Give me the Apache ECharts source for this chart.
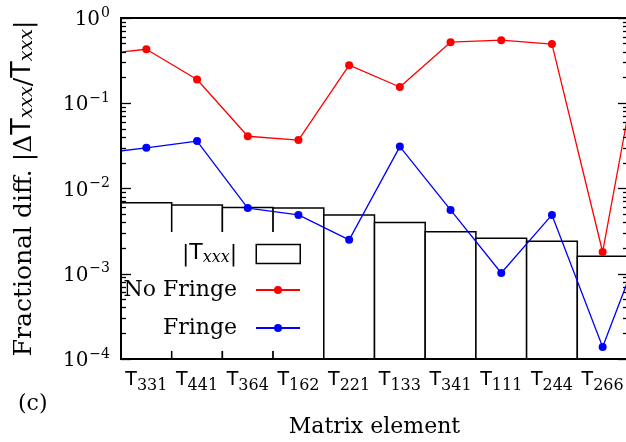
<!DOCTYPE html>
<html lang="en">
<head>
<meta charset="UTF-8">
<title>Fractional diff</title>
<style>
  html, body { margin: 0; padding: 0; background: #fff; }
  #main { width: 626px; height: 442px; }
</style>
</head>
<body>
<div id="main"></div>
<script src="https://cdn.jsdelivr.net/npm/echarts@6/dist/echarts.min.js"></script>
<script>
// matrix elements (subscripts of T)
var categories = ['331', '441', '364', '162', '221', '133', '341', '111', '244', '266'];
// |T_xxx| (boxes)
var tAbs = [0.0068, 0.0064, 0.0060, 0.0059, 0.0049, 0.0040, 0.0031, 0.0026, 0.0024, 0.0016];
// fractional differences
var noFringe = [0.43, 0.19, 0.041, 0.037, 0.28, 0.155, 0.52, 0.55, 0.495, 0.0018];
var fringe = [0.030, 0.036, 0.0059, 0.0049, 0.0025, 0.031, 0.0056, 0.00102, 0.0049, 0.000138];
// neighbours just outside the frame (index -1 and 10), the lines run off the edges
var noFringeOut = [0.37, 3.0];
var fringeOut = [0.0254, 0.005];
// y ticks
var majorTicks = [1e-4, 1e-3, 1e-2, 1e-1, 1];
var minorMant = [2, 3, 4, 5, 6, 7, 8, 9];

var SERIF = 'DejaVu Serif';
var SANS = 'DejaVu Sans';

var minorTicks = [];
for (var d = 0; d < majorTicks.length - 1; d++) {
    for (var m = 0; m < minorMant.length; m++) {
        minorTicks.push(minorMant[m] * majorTicks[d]);
    }
}

function withOut(vals, out) {
    var arr = [[-1, out[0]]];
    for (var i = 0; i < vals.length; i++) arr.push([i, vals[i]]);
    arr.push([vals.length, out[1]]);
    return arr;
}

var boxData = [];
for (var i = 0; i < tAbs.length; i++) boxData.push([i, tAbs[i]]);

function expLabel(v) {
    var e = Math.round(Math.log10(v));
    return '{b|10}{e|' + (e < 0 ? '\u2212' + (-e) : e) + '}';
}

var tickStyle = { color: '#000', width: 1.3 };
var logBase = { type: 'log', logBase: 10, min: 1e-4, max: 1, z: 6, splitLine: { show: false } };

function yAx(pos, ticks, len, extra) {
    var a = Object.assign({}, logBase, {
        position: pos,
        axisLine: { show: true, onZero: false, lineStyle: { color: '#000', width: 2 } },
        axisTick: { show: true, inside: true, length: len, customValues: ticks, lineStyle: tickStyle },
        axisLabel: { show: false }
    });
    return Object.assign(a, extra || {});
}

var myChart = echarts.init(document.getElementById('main'));

var option = {
    animation: false,
    backgroundColor: '#fff',
    grid: { left: 121, top: 18, right: -2, bottom: 83, outerBoundsMode: 'none' },
    xAxis: [{
        type: 'category', position: 'bottom', data: categories, z: 6,
        axisLine: { onZero: false, lineStyle: { color: '#000', width: 2 } },
        axisTick: { inside: true, alignWithLabel: true, length: 7, lineStyle: tickStyle },
        axisLabel: {
            margin: 12, interval: 0,
            formatter: function (v) { return '{t|T}{s|' + v + '}'; },
            rich: {
                t: { fontFamily: SANS, fontSize: 19, color: '#000', verticalAlign: 'bottom', padding: [0, 0, 4, 0] },
                s: { fontFamily: SERIF, fontSize: 16, color: '#000', verticalAlign: 'bottom' }
            }
        },
        name: 'Matrix element', nameLocation: 'middle', nameGap: 57,
        nameTextStyle: { fontFamily: SERIF, fontSize: 22, color: '#000' }
    }, {
        type: 'category', position: 'top', data: categories, z: 6,
        axisLine: { onZero: false, lineStyle: { color: '#000', width: 2 } },
        axisTick: { inside: true, alignWithLabel: true, length: 7, lineStyle: tickStyle },
        axisLabel: { show: false }
    }, {
        type: 'value', min: -0.5, max: 9.5, show: false
    }],
    yAxis: [
        yAx('left', majorTicks, 10, {
            axisLabel: {
                show: true, margin: 11, customValues: majorTicks,
                formatter: expLabel,
                rich: {
                    b: { fontFamily: SERIF, fontSize: 20, color: '#000', verticalAlign: 'bottom' },
                    e: { fontFamily: SERIF, fontSize: 14, color: '#000', verticalAlign: 'bottom', padding: [0, 0, 10, 1] }
                }
            },
            name: '{r|Fractional diff. |\u0394}{t|T}{i|xxx}{r|/}{t|T}{i|xxx}{r||}',
            nameLocation: 'middle', nameGap: 84,
            nameTextStyle: {
                rich: {
                    r: { fontFamily: SERIF, fontSize: 25, color: '#000', verticalAlign: 'bottom' },
                    t: { fontFamily: SANS, fontSize: 27, color: '#000', verticalAlign: 'bottom', padding: [0, 0, 1, 0] },
                    i: { fontFamily: SERIF, fontStyle: 'italic', fontSize: 19, color: '#000', verticalAlign: 'bottom' }
                }
            }
        }),
        yAx('left', minorTicks, 5),
        yAx('right', majorTicks, 10),
        yAx('right', minorTicks, 5)
    ],
    legend: [{
        // box with white background, holds the |T| entry
        data: [{ name: 'Tabs', icon: 'rect', itemStyle: { color: '#fff', borderColor: '#000', borderWidth: 1.5 } }],
        orient: 'vertical', align: 'right', right: 325 - 21, top: 232,
        padding: [10, 21, 85, 49], backgroundColor: '#fff', z: 4,
        itemWidth: 44, itemHeight: 19,
        formatter: function () { return '{n||}{t|T}{i|xxx}{n||}'; },
        textStyle: {
            padding: [0, 14, 0, 0],
            rich: {
                n: { fontFamily: SERIF, fontSize: 22, color: '#000', verticalAlign: 'bottom' },
                t: { fontFamily: SANS, fontSize: 22, color: '#000', verticalAlign: 'bottom', padding: [0, 0, 2, 0] },
                i: { fontFamily: SERIF, fontStyle: 'italic', fontSize: 16, color: '#000', verticalAlign: 'bottom' }
            }
        }
    }, {
        data: ['No Fringe', 'Fringe'],
        orient: 'vertical', align: 'right', right: 325, top: 279, padding: 0, z: 5,
        itemWidth: 44, itemHeight: 10, itemGap: 16,
        textStyle: { fontFamily: SERIF, fontSize: 22, color: '#000', padding: [0, 14, 0, 0] }
    }],
    series: [{
        name: 'Tabs',
        type: 'custom',
        xAxisIndex: 2,
        yAxisIndex: 0,
        z: 1,
        data: boxData,
        renderItem: function (params, api) {
            var i = api.value(0), v = api.value(1);
            var top = api.coord([i, v]);
            var base = api.coord([i, 1e-4]);
            var l = api.coord([i - 0.5, v])[0];
            var r = api.coord([i + 0.5, v])[0];
            return {
                type: 'rect',
                shape: { x: l, y: top[1], width: r - l, height: base[1] - top[1] },
                style: { fill: '#fff', stroke: '#000', lineWidth: 1.5 }
            };
        }
    }, {
        name: 'No Fringe',
        type: 'line',
        xAxisIndex: 2, yAxisIndex: 0, z: 3,
        clip: true,
        data: withOut(noFringe, noFringeOut),
        color: '#ff0000',
        symbol: 'circle', symbolSize: 8,
        lineStyle: { color: '#ff0000', width: 1.3 },
        itemStyle: { color: '#ff0000' }
    }, {
        name: 'Fringe',
        type: 'line',
        xAxisIndex: 2, yAxisIndex: 0, z: 3,
        clip: true,
        data: withOut(fringe, fringeOut),
        color: '#0000ff',
        symbol: 'circle', symbolSize: 8,
        lineStyle: { color: '#0000ff', width: 1.3 },
        itemStyle: { color: '#0000ff' }
    }],
    graphic: [{
        type: 'text', left: 18, top: 393,
        style: { text: '(c)', font: '22px "DejaVu Serif"', fill: '#000' }
    }]
};

myChart.setOption(option);
</script>
</body>
</html>
